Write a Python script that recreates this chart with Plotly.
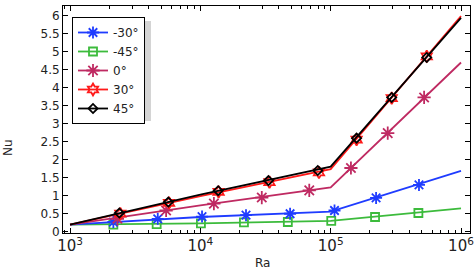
import plotly.graph_objects as go

# Line data (vertices)
ra_nodes = [1e3, 1e4, 1e5, 1e6]
nu_m30 = [0.19, 0.40, 0.55, 1.68]
nu_m45 = [0.19, 0.22, 0.29, 0.64]
nu_0 = [0.19, 0.72, 1.22, 4.69]
nu_p30 = [0.19, 0.98, 1.73, 5.98]
nu_p45 = [0.19, 1.02, 1.80, 5.93]

# Marker positions
mk_ra_m30 = [2150, 4710, 10300, 22400, 48800, 107000, 223000, 476000]
mk_nu_m30 = [0.26, 0.35, 0.41, 0.45, 0.49, 0.58, 0.93, 1.29]
mk_ra_m45 = [2150, 4620, 10100, 21600, 46900, 101000, 219000, 471000]
mk_nu_m45 = [0.19, 0.20, 0.22, 0.25, 0.26, 0.29, 0.40, 0.51]
mk_ra_0 = [2310, 5460, 12700, 29600, 68500, 143000, 274000, 521000]
mk_nu_0 = [0.35, 0.58, 0.77, 0.94, 1.14, 1.76, 2.73, 3.72]
mk_ra_p30 = [2430, 5750, 13800, 33900, 81300, 158000, 294000, 546000]
mk_nu_p30 = [0.49, 0.79, 1.10, 1.37, 1.64, 2.55, 3.70, 4.86]
mk_ra_p45 = [2390, 5680, 13700, 33300, 79600, 158000, 294000, 546000]
mk_nu_p45 = [0.51, 0.815, 1.13, 1.41, 1.69, 2.59, 3.72, 4.83]

labels = ["-30°", "-45°", "0°", "30°", "45°"]
y_ticks = [0, 0.5, 1, 1.5, 2, 2.5, 3, 3.5, 4, 4.5, 5, 5.5, 6]
y_tick_text = ["0", "0.5", "1", "1.5", "2", "2.5", "3", "3.5", "4", "4.5", "5", "5.5", "6"]

series = [
    (labels[0], nu_m30, mk_ra_m30, mk_nu_m30, "#1f3cff", "asterisk-open", 10),
    (labels[1], nu_m45, mk_ra_m45, mk_nu_m45, "#3cbb3c", "square-open", 8),
    (labels[2], nu_0, mk_ra_0, mk_nu_0, "#bf2a62", "asterisk-open", 11),
    (labels[3], nu_p30, mk_ra_p30, mk_nu_p30, "#ff1a1a", "hexagram-open", 9),
    (labels[4], nu_p45, mk_ra_p45, mk_nu_p45, "#000000", "diamond-open", 7),
]

fig = go.Figure()
draw_order = [1, 0, 2, 3, 4]
for i in draw_order:
    name, nu, mra, mnu, col, sym, sz = series[i]
    fig.add_trace(go.Scatter(x=ra_nodes, y=nu, mode="lines", line=dict(color=col, width=1.8),
                             showlegend=False, hoverinfo="skip"))
    fig.add_trace(go.Scatter(x=mra, y=mnu, mode="markers",
                             marker=dict(symbol=sym, size=sz, color=col, line=dict(color=col, width=1.8)),
                             showlegend=False))
for name, nu, mra, mnu, col, sym, sz in series:
    fig.add_trace(go.Scatter(x=[None], y=[None], mode="lines+markers", name=name,
                             line=dict(color=col, width=1.8),
                             marker=dict(symbol=sym, size=sz, color=col, line=dict(color=col, width=1.8))))

L, R, T, B = 63, 6, 6, 39
W, H = 476, 272
pw, ph = W - L - R, H - T - B
def px2paper(x, y):
    return (x - L) / pw, (H - B - y) / ph

lx, ly = px2paper(72, 17)
sx0, sy0 = px2paper(76, 21)
sx1, sy1 = px2paper(151, 121)
fig.add_shape(type="rect", xref="paper", yref="paper", x0=sx0, y0=sy1, x1=sx1, y1=sy0,
              fillcolor="#d4d4d4", line=dict(width=0), layer="above")

ra_x, ra_y = px2paper(262, 263)
nu_x, nu_y = px2paper(8, 148)
fig.add_annotation(text="Ra", xref="paper", yref="paper", x=ra_x, y=ra_y, showarrow=False,
                   font=dict(size=12, color="#222"), xanchor="center", yanchor="middle")
fig.add_annotation(text="Nu", xref="paper", yref="paper", x=nu_x, y=nu_y, showarrow=False,
                   textangle=-90, font=dict(size=12, color="#222"), xanchor="center", yanchor="middle")

fig.update_layout(
    width=W, height=H,
    margin=dict(l=L, r=R, t=T, b=B, autoexpand=False),
    paper_bgcolor="white", plot_bgcolor="white",
    font=dict(family="DejaVu Sans", size=12, color="#222"),
    legend=dict(x=lx, y=ly, xanchor="left", yanchor="top", bgcolor="white",
                bordercolor="black", borderwidth=1, font=dict(size=12, color="#222"),
                tracegroupgap=0, itemwidth=30),
    xaxis=dict(type="log", range=[2.946, 6.069], dtick=1, exponentformat="power",
               showline=True, linecolor="black", linewidth=1, mirror="ticks", automargin=False,
               ticks="inside", ticklen=5, tickcolor="black", showgrid=False, zeroline=False,
               minor=dict(ticks="inside", ticklen=3, tickcolor="black", showgrid=False)),
    yaxis=dict(range=[-0.045, 6.26], tickvals=y_ticks, ticktext=y_tick_text, automargin=False,
               showline=True, linecolor="black", linewidth=1, mirror="ticks",
               ticks="inside", ticklen=5, tickcolor="black", showgrid=False, zeroline=False),
)
fig.write_html("out.html", config={"displayModeBar": False},
               post_script="document.body.style.margin='0';document.body.style.padding='0';")
